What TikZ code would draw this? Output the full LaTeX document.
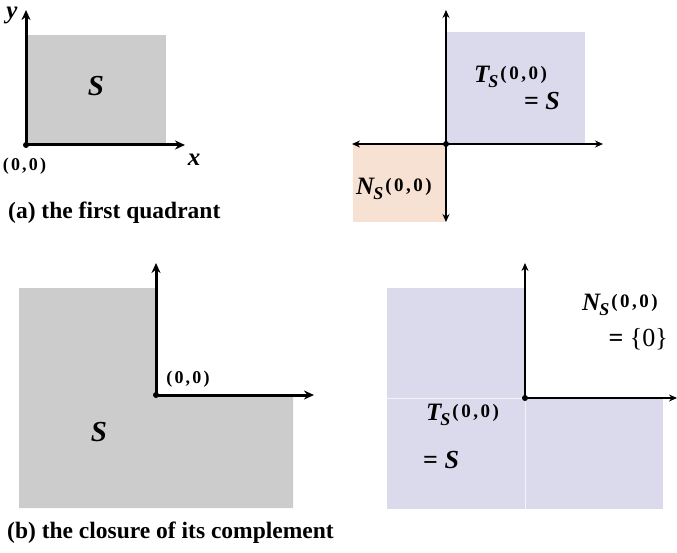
\documentclass[tikz,border=0pt]{standalone}
\usepackage{fontspec}
\setmainfont{Liberation Serif}
\usetikzlibrary{arrows.meta}
\definecolor{greyfill}{RGB}{204,204,204}
\definecolor{lavfill}{RGB}{218,218,236}
\definecolor{peachfill}{RGB}{247,225,211}
\newcommand{\zz}[2]{{\fontsize{#1}{#1}\selectfont\bfseries(\kern#2 0\kern#2,\kern#2 0\kern#2)}}
\newcommand{\conelab}[1]{{\fontsize{25}{25}\selectfont\bfseries\itshape #1}\kern-1pt\raisebox{-5pt}{\fontsize{18}{18}\selectfont\bfseries\itshape S}\kern2pt\raisebox{3pt}{\zz{19}{2.5pt}}}
\newcommand{\bigS}{{\fontsize{29}{29}\selectfont\bfseries\itshape S}}
\begin{document}
\begin{tikzpicture}[x=1pt,y=-1pt,
  thickax/.style={line width=3pt,-{Stealth[length=10pt,width=9pt]}},
  thinax/.style={line width=2pt,{Stealth[length=8pt,width=7pt]}-{Stealth[length=8pt,width=7pt]}},
  thinone/.style={line width=2pt,-{Stealth[length=8pt,width=7pt]}},
  origdot/.style={circle,fill=black,inner sep=0pt,minimum size=6pt},
  lbl/.style={inner sep=0pt},
  captext/.style={inner sep=0pt,anchor=base west,font=\fontsize{23.5}{28}\selectfont\bfseries}]
\useasboundingbox (0,0) rectangle (677,553);

% ---------- (a) left ----------
\fill[greyfill] (26,35) rectangle (166,145);
\coordinate (a1O) at (26,145);
\coordinate (a1Y) at (26,10);
\coordinate (a1X) at (185,145);
\draw[thickax] (a1O) -- (a1Y);
\draw[thickax] (a1O) -- (a1X);
\node[origdot] (a1dot) at (a1O) {};
\node[lbl] (a1S) at (96,86) {\bigS};
\node[lbl,anchor=base] (a1ylab) at (12,18.5) {\fontsize{25}{25}\selectfont\bfseries\itshape y};
\node[lbl] (a1xlab) at (194,160) {\fontsize{25}{25}\selectfont\bfseries\itshape x};
\node[lbl] (a1zero) at (24.5,166.5) {\zz{18}{2.2pt}};
\node[captext] (capa) at (8,219) {(a) the first quadrant};

% ---------- (a) right ----------
\fill[lavfill] (446,32) rectangle (585,144);
\fill[peachfill] (353,144) rectangle (446,222);
\coordinate (a2O) at (446,144);
\coordinate (a2U) at (446,10);
\coordinate (a2D) at (446,222);
\coordinate (a2L) at (352,144);
\coordinate (a2R) at (603,144);
\draw[thinax] (a2D) -- (a2U);
\draw[thinax] (a2L) -- (a2R);
\node[origdot] (a2dot) at (a2O) {};
\node[lbl,anchor=base west] (a2T) at (474,83) {\conelab{T}};
\node[lbl,anchor=base east] (a2eq) at (560,110) {\fontsize{26}{26}\selectfont\bfseries = \itshape S};
\node[lbl,anchor=base west] (a2N) at (356,195) {\conelab{N}};

% ---------- (b) left ----------
\fill[greyfill] (19,288) -- (156,288) -- (156,395) -- (293,395) -- (293,508) -- (19,508) -- cycle;
\coordinate (b1O) at (156,395);
\coordinate (b1U) at (156,263);
\coordinate (b1R) at (314,395);
\draw[thickax] (b1O) -- (b1U);
\draw[thickax] (b1O) -- (b1R);
\node[origdot] (b1dot) at (b1O) {};
\node[lbl] (b1zero) at (188,379) {\zz{18}{2.2pt}};
\node[lbl] (b1S) at (99,432) {\bigS};
\node[captext] (capb) at (7,538) {(b) the closure of its complement};

% ---------- (b) right ----------
\fill[lavfill] (387,288) rectangle (525,398);
\fill[lavfill] (387,398) rectangle (525,509);
\fill[lavfill] (525,398) rectangle (663,509);
\draw[white,line width=0.6pt,opacity=0.7] (387,398) -- (525,398);
\draw[white,line width=0.6pt,opacity=0.7] (525,398) -- (525,509);
\coordinate (b2O) at (525,398);
\coordinate (b2U) at (525,263);
\coordinate (b2R) at (677,398);
\draw[thinone] (b2O) -- (b2U);
\draw[thinone] (b2O) -- (b2R);
\node[origdot] (b2dot) at (b2O) {};
\node[lbl,anchor=base west] (b2N) at (582,310) {\conelab{N}};
\node[lbl,anchor=base east] (b2eq) at (668,346) {\fontsize{26}{26}\selectfont\bfseries = \mdseries\{0\}};
\node[lbl,anchor=base west] (b2T) at (426,420) {\conelab{T}};
\node[lbl,anchor=base west] (b2eqS) at (423,468) {\fontsize{26}{26}\selectfont\bfseries = \itshape S};
\end{tikzpicture}
\end{document}
